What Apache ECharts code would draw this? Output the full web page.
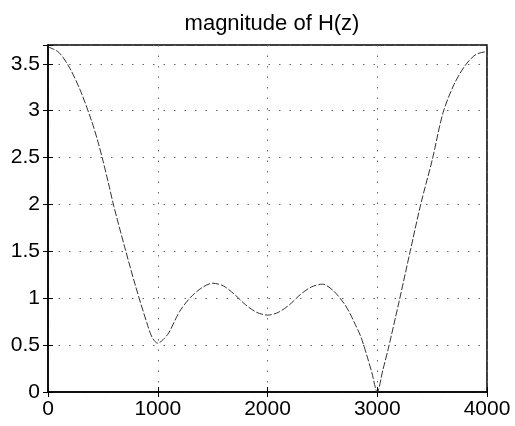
<!DOCTYPE html>
<html>
<head>
<meta charset="utf-8">
<script src="https://cdn.jsdelivr.net/npm/echarts@6/dist/echarts.min.js"></script>
<style>
  html, body { margin: 0; padding: 0; background: #fff; }
  #main { width: 515px; height: 426px; }
</style>
</head>
<body>
<div id="main"></div>
<script>
// frequency (Hz) and |H|
var freq = [0, 100, 200, 300, 400, 450, 500, 550, 600, 700, 800, 900, 950, 1000, 1050, 1100, 1200, 1300, 1400, 1500,
	1600, 1700, 1800, 1900, 2000, 2100, 2200, 2300, 2400, 2500, 2600, 2700, 2750, 2800, 2850, 2900, 2950, 3000,
	3050, 3100, 3200, 3300, 3400, 3500, 3600, 3700, 3800, 3900, 4000];
var mag = [3.68, 3.62, 3.45, 3.20, 2.88, 2.69, 2.47, 2.23, 1.98, 1.54, 1.12, 0.74, 0.58, 0.52, 0.56, 0.63, 0.86, 1.01, 1.11, 1.16,
	1.13, 1.04, 0.93, 0.85, 0.82, 0.85, 0.93, 1.04, 1.12, 1.15, 1.08, 0.94, 0.84, 0.72, 0.59, 0.41, 0.21, 0.0,
	0.23, 0.46, 0.97, 1.50, 2.02, 2.47, 2.98, 3.28, 3.48, 3.60, 3.63];
var xTicks = [0, 1000, 2000, 3000, 4000];
var yTicks = [0, 0.5, 1, 1.5, 2, 2.5, 3, 3.5];

var chart = echarts.init(document.getElementById("main"));

var gridDots = { show: true, lineStyle: { color: '#666', width: 1, type: [1.5, 9] } };
var labelFont = { fontFamily: 'Liberation Sans, Arial, sans-serif', fontSize: 21, color: '#000' };

chart.setOption({
	animation: false,
	title: {
		text: 'magnitude of H(z)',
		left: 267, top: 8, textAlign: 'center',
		textStyle: { fontFamily: 'Liberation Sans, Arial, sans-serif', fontSize: 22, fontWeight: 'normal', color: '#000' }
	},
	grid: { left: 48, right: 28, top: 45, bottom: 34, show: true, borderColor: '#000', borderWidth: 1.5, containLabel: false },
	xAxis: [
		{
			type: 'value', min: 0, max: 4000, interval: 1000,
			axisLine: { show: true, onZero: false, lineStyle: { color: '#000', width: 1.5 } },
			axisTick: { show: true, inside: true, length: 5, lineStyle: { color: '#000' } },
			axisLabel: Object.assign({ margin: 7, formatter: function (v) { return xTicks.indexOf(v) >= 0 ? String(v) : ''; } }, labelFont),
			splitLine: gridDots
		},
		{
			type: 'value', position: 'top', min: 0, max: 4000, interval: 1000,
			axisLine: { show: false }, axisLabel: { show: false }, splitLine: { show: false },
			axisTick: { show: true, inside: true, length: 5, lineStyle: { color: '#000' } }
		}
	],
	yAxis: [
		{
			type: 'value', min: 0, max: 3.7, interval: 0.5,
			axisLine: { show: true, lineStyle: { color: '#000', width: 1.5 } },
			axisTick: { show: true, inside: true, length: 5, lineStyle: { color: '#000' } },
			axisLabel: Object.assign({ margin: 8, formatter: function (v) { return yTicks.indexOf(v) >= 0 ? String(v) : ''; } }, labelFont),
			splitLine: gridDots
		},
		{
			type: 'value', position: 'right', min: 0, max: 3.7, interval: 0.5,
			axisLine: { show: false }, axisLabel: { show: false }, splitLine: { show: false },
			axisTick: { show: true, inside: true, length: 5, lineStyle: { color: '#000' } }
		}
	],
	series: [{
		type: 'line',
		data: freq.map(function (f, i) { return [f, mag[i]]; }),
		showSymbol: false,
		smooth: 0.3,
		lineStyle: { color: '#333', width: 1, type: [7, 2] }
	}]
});
</script>
</body>
</html>
